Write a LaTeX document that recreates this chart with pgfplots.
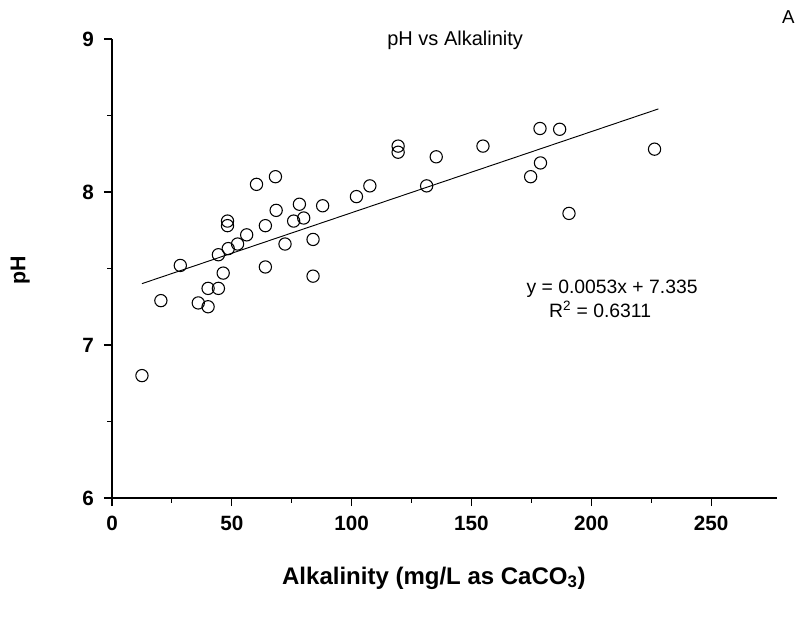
\documentclass[border=0pt]{standalone}
\usepackage{fontspec}
\setmainfont{Liberation Sans}
\usepackage{pgfplots}
\pgfplotsset{compat=1.18}
\begin{document}
\begin{tikzpicture}
\useasboundingbox (-84pt,-90pt) rectangle (516pt,373.5pt);
\begin{axis}[
  at={(0pt,0pt)}, anchor=south west,
  width=498.75pt, height=344.25pt, scale only axis,
  xmin=0, xmax=277.5, ymin=6, ymax=9,
  axis x line=bottom, axis y line=left,
  axis line style={-, line width=1pt},
  xtick={0,50,100,150,200,250}, ytick={6,7,8,9},
  minor x tick num=1, minor y tick num=1,
  tick align=outside,
  major tick length=6pt, minor tick length=3.5pt,
  every tick/.style={black, line width=0.8pt},
  /pgf/number format/assume math mode=true,
  tick label style={font=\bfseries\fontsize{15.5}{17}\selectfont},
  xticklabel style={yshift=-4pt},
  yticklabel style={xshift=-4pt},
  clip=false,
]
\addplot[only marks, mark=o, mark size=4.6pt, mark options={line width=0.8pt}] coordinates {
(12.5,6.80) (20.4,7.29) (28.5,7.52) (36,7.275) (40.1,7.25) (40.1,7.37)
(44.4,7.37) (46.4,7.47) (44.4,7.59) (48.5,7.63) (48.2,7.81) (48.2,7.78)
(52.4,7.66) (56.2,7.72) (60.3,8.05) (64,7.78) (64,7.51) (68.2,8.10)
(68.5,7.88) (72.2,7.66) (75.8,7.81) (78.2,7.92) (80,7.83) (83.9,7.69)
(83.9,7.45) (87.9,7.91) (102,7.97) (107.6,8.04) (119.4,8.30) (119.4,8.26)
(131.3,8.04) (135.3,8.23) (154.8,8.30) (174.7,8.10) (178.6,8.415) (178.8,8.19)
(186.8,8.41) (190.7,7.86) (226.4,8.28)
};
\addplot[black, line width=0.7pt] coordinates {(12.5,7.401) (228,8.543)};
\node[font=\fontsize{15}{17}\selectfont, anchor=center] at (rel axis cs:0.516,0.997) {pH vs Alkalinity};
\node[font=\fontsize{14.5}{16}\selectfont, anchor=center] at (rel axis cs:0.752,0.455) {y = 0.0053x + 7.335};
\node[font=\fontsize{14.5}{16}\selectfont, anchor=center] at (rel axis cs:0.734,0.412) {R\textsuperscript{2} = 0.6311};
\node[font=\fontsize{14}{16}\selectfont, anchor=center] at (rel axis cs:1.017,1.048) {A};
\node[font=\bfseries\fontsize{16}{18}\selectfont, rotate=90, anchor=center] at (rel axis cs:-0.138,0.497) {pH};
\node[font=\bfseries\fontsize{18}{20}\selectfont, anchor=center] at (rel axis cs:0.484,-0.174) {Alkalinity (mg/L as CaCO\textsubscript{3})};
\end{axis}
\end{tikzpicture}
\end{document}
